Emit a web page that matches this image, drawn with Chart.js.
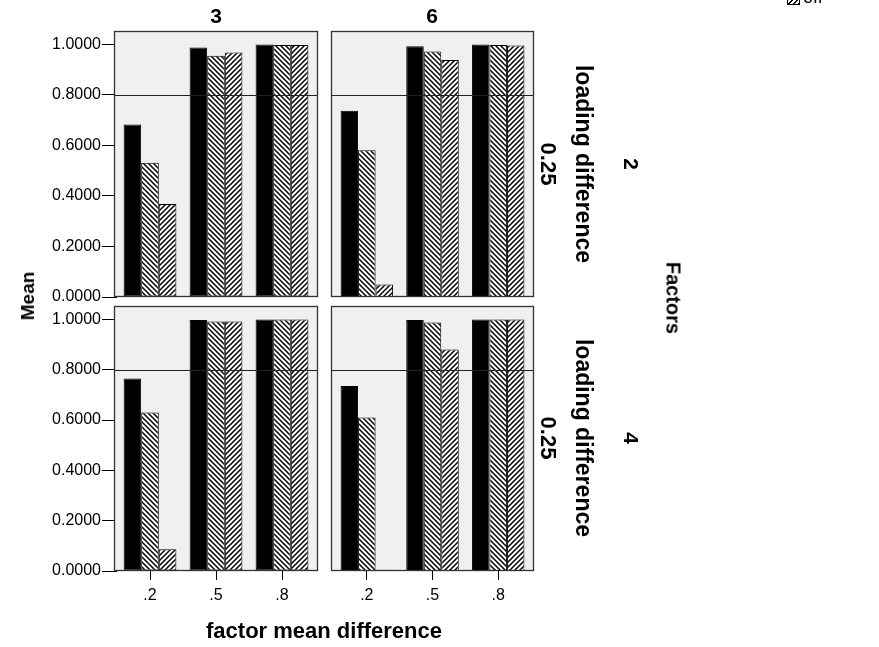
<!DOCTYPE html>
<html>
<head>
<meta charset="utf-8">
<script src="https://cdn.jsdelivr.net/npm/chart.js@4.4.0/dist/chart.umd.min.js"></script>
<style>
  html, body { margin:0; padding:0; background:#fff; }
  #page { position:relative; width:879px; height:647px; overflow:hidden; font-family:"Liberation Sans", Arial, sans-serif; }
  #page canvas { position:absolute; left:0; top:0; }
  .lbl { position:absolute; transform:translate(-50%,-50%); white-space:nowrap; font-weight:bold; color:#000; }
  .rot { transform:translate(-50%,-50%) rotate(90deg); }
  .rotl { transform:translate(-50%,-50%) rotate(-90deg); }
  #legend { position:absolute; left:787px; top:-12px; font-size:18px; line-height:18px; color:#000; white-space:nowrap; }
  #legend .sw { display:inline-block; width:11px; height:11px; border:1px solid #000; vertical-align:middle; margin-right:3px;
    background:repeating-linear-gradient(-45deg, #000 0 1.2px, #fff 1.2px 3.5px); }
</style>
</head>
<body>
<div id="page">
  <canvas id="pTL"></canvas>
  <canvas id="pTR"></canvas>
  <canvas id="pBL"></canvas>
  <canvas id="pBR"></canvas>
  <div id="legend"><span class="sw"></span>off</div>
  <div id="labels"></div>
</div>
<script>
// x categories: factor mean difference
const categories = ['.2', '.5', '.8'];
const yTicks = [0, 0.2, 0.4, 0.6, 0.8, 1.0];
const yMax = 1.053;
const refLine = 0.8;
const columnLabels = ['3', '6'];
const rowLabels = ['2', '4'];
const rowSubLabel = '0.25';

// top row (Factors 2), column 3
const solidTop3 = [0.683, 0.988, 1.000];
const hatchATop3 = [0.531, 0.955, 0.998];
const hatchBTop3 = [0.368, 0.968, 0.998];
// top row (Factors 2), column 6
const solidTop6 = [0.737, 0.993, 1.000];
const hatchATop6 = [0.581, 0.972, 0.998];
const hatchBTop6 = [0.049, 0.938, 0.996];
// bottom row (Factors 4), column 3
const solidBot3 = [0.765, 0.997, 0.999];
const hatchABot3 = [0.630, 0.991, 0.999];
const hatchBBot3 = [0.086, 0.991, 0.999];
// bottom row (Factors 4), column 6
const solidBot6 = [0.735, 0.997, 0.999];
const hatchABot6 = [0.610, 0.987, 0.999];
const hatchBBot6 = [0.005, 0.880, 0.999];

const W = 879, H = 647;
const Y_AXIS_W = 100, X_AXIS_H = 40, INSET = 3;

function hatch(dir) {
  const s = 5;
  const c = document.createElement('canvas');
  c.width = s; c.height = s;
  const g = c.getContext('2d');
  g.fillStyle = '#fff';
  g.fillRect(0, 0, s, s);
  g.strokeStyle = '#000';
  g.lineWidth = 1.5;
  g.beginPath();
  if (dir === 'down') {
    g.moveTo(-1, -1); g.lineTo(s + 1, s + 1);
    g.moveTo(-1, s - 1); g.lineTo(1, s + 1);
    g.moveTo(s - 1, -1); g.lineTo(s + 1, 1);
  } else {
    g.moveTo(-1, s + 1); g.lineTo(s + 1, -1);
    g.moveTo(-1, 1); g.lineTo(1, -1);
    g.moveTo(s - 1, s + 1); g.lineTo(s + 1, s - 1);
  }
  g.stroke();
  return g.createPattern(c, 'repeat');
}
const patDown = hatch('down');
const patUp = hatch('up');

const panelDeco = {
  id: 'panelDeco',
  beforeDatasetsDraw(chart) {
    const a = chart.chartArea, ctx = chart.ctx;
    ctx.save();
    ctx.fillStyle = '#f0f0f0';
    ctx.fillRect(a.left - INSET, a.top, a.right - a.left + 2 * INSET, a.bottom - a.top);
    ctx.restore();
  },
  afterDatasetsDraw(chart) {
    const a = chart.chartArea, ctx = chart.ctx;
    const y = Math.round(chart.scales.y.getPixelForValue(refLine)) + 0.5;
    ctx.save();
    ctx.strokeStyle = '#222';
    ctx.lineWidth = 1;
    ctx.beginPath();
    ctx.moveTo(a.left - INSET, y);
    ctx.lineTo(a.right + INSET, y);
    ctx.stroke();
    ctx.strokeStyle = '#333';
    ctx.lineWidth = 1.3;
    ctx.strokeRect(Math.round(a.left - INSET) + 0.5, Math.round(a.top) + 0.5,
      Math.round(a.right - a.left + 2 * INSET) - 1, Math.round(a.bottom - a.top) - 1);
    ctx.restore();
  }
};

const panels = [
  { id: 'pTL', series: [solidTop3, hatchATop3, hatchBTop3], box: [114, 31, 318, 297], showY: true,  showX: false },
  { id: 'pTR', series: [solidTop6, hatchATop6, hatchBTop6], box: [331, 31, 534, 297], showY: false, showX: false },
  { id: 'pBL', series: [solidBot3, hatchABot3, hatchBBot3], box: [114, 306, 318, 571], showY: true,  showX: true },
  { id: 'pBR', series: [solidBot6, hatchABot6, hatchBBot6], box: [331, 306, 534, 571], showY: false, showX: true }
];

const tickFont = { family: 'Liberation Sans', size: 16 };

panels.forEach(p => {
  const [bl, bt, br, bb] = p.box;
  const left = bl + INSET, right = br - INSET;
  const canvas = document.getElementById(p.id);
  canvas.width = W; canvas.height = H;
  const fills = ['#000', patDown, patUp];
  new Chart(canvas, {
    type: 'bar',
    data: {
      labels: categories,
      datasets: p.series.map((d, i) => ({
        data: d,
        backgroundColor: fills[i],
        borderColor: '#000',
        borderWidth: 1,
        borderSkipped: false,
        categoryPercentage: 0.8,
        barPercentage: 1
      }))
    },
    options: {
      responsive: false,
      animation: false,
      devicePixelRatio: 1,
      layout: {
        padding: {
          left: p.showY ? left - Y_AXIS_W : left,
          top: bt,
          right: W - right,
          bottom: p.showX ? H - bb - X_AXIS_H : H - bb
        }
      },
      plugins: { legend: { display: false }, tooltip: { enabled: false } },
      scales: {
        x: {
          display: p.showX,
          offset: true,
          grid: { offset: false, drawOnChartArea: false, tickLength: 9, color: '#000' },
          border: { display: false },
          ticks: { padding: 6, color: '#000', font: tickFont, maxRotation: 0 },
          afterFit: s => { if (p.showX) s.height = X_AXIS_H; }
        },
        y: {
          display: p.showY,
          min: 0,
          max: yMax,
          afterBuildTicks: s => { s.ticks = yTicks.map(v => ({ value: v })); },
          grid: { drawOnChartArea: false, tickLength: 15, color: '#000' },
          border: { display: false },
          ticks: { padding: 1, color: '#000', font: tickFont, callback: v => Number(v).toFixed(4) },
          afterFit: s => { if (p.showY) s.width = Y_AXIS_W; }
        }
      }
    },
    plugins: [panelDeco]
  });
});

// facet labels and axis titles
const labels = document.getElementById('labels');
function addLabel(text, x, y, size, cls) {
  const d = document.createElement('div');
  d.className = 'lbl' + (cls ? ' ' + cls : '');
  d.style.left = x + 'px';
  d.style.top = y + 'px';
  d.style.fontSize = size + 'px';
  d.textContent = text;
  labels.appendChild(d);
}
addLabel(columnLabels[0], 216, 16, 21);
addLabel(columnLabels[1], 432, 16, 21);
[164, 438].forEach((cy, i) => {
  addLabel(rowSubLabel, 548, cy, 22, 'rot');
  addLabel('loading difference', 583, cy, 23, 'rot');
  addLabel(rowLabels[i], 631, cy, 21, 'rot');
});
addLabel('Factors', 673, 298, 20, 'rot');
addLabel('Mean', 28, 296, 19, 'rotl');
addLabel('factor mean difference', 324, 631, 22);
</script>
</body>
</html>
